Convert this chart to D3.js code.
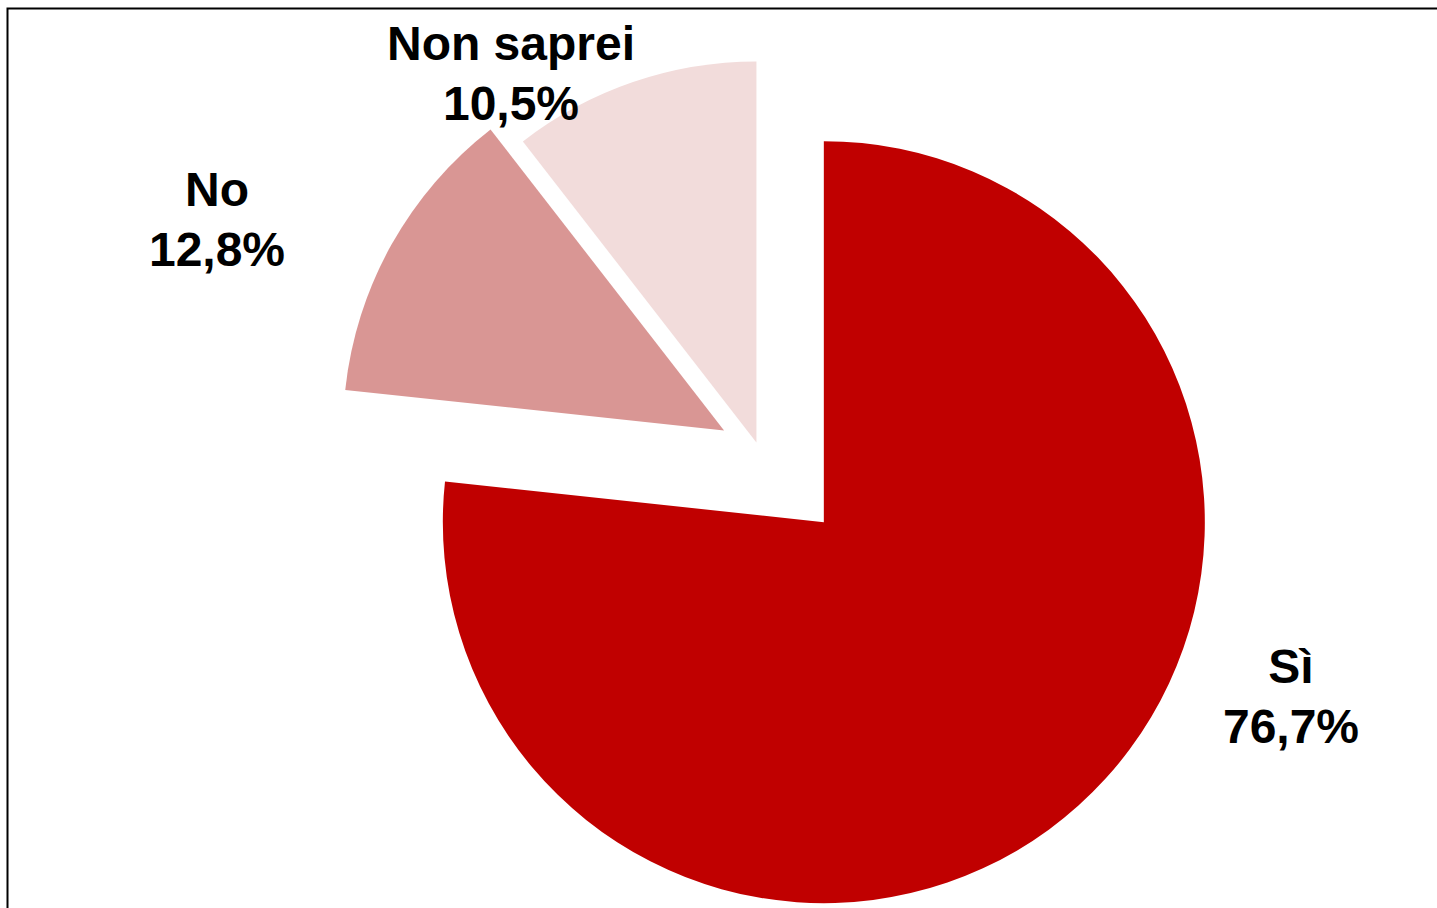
<!DOCTYPE html>
<html>
<head>
<meta charset="utf-8">
<script src="https://cdn.jsdelivr.net/npm/d3@7"></script>
<style>
  html, body { margin: 0; padding: 0; background: #fff; }
  svg { display: block; }
</style>
</head>
<body>
<svg id="chart" width="1437" height="908"></svg>
<script>
// ---- data ----
const categories = ["Sì", "No", "Non saprei"];
const values = [76.7, 12.8, 10.5];
const valueLabels = ["76,7%", "12,8%", "10,5%"];

// ---- style / layout ----
const colors = ["#C00000", "#D99694", "#F2DCDB"];
const explode = [97, 40, 8];              // px offset along bisector
const center = { x: 759, y: 450 };
const radius = 381;
const labelAnchors = [ { x: 1291, y: 683 }, { x: 217, y: 206 }, { x: 511, y: 60 } ];
const lineGap = 60;

const svg = d3.select("#chart");
svg.append("rect").attr("width", 1437).attr("height", 908).attr("fill", "#fff");
// frame (only left/top visible in reference)
svg.append("rect")
  .attr("x", 7.5).attr("y", 8.5).attr("width", 1500).attr("height", 1000)
  .attr("fill", "none").attr("stroke", "#000").attr("stroke-width", 2);

const data = categories.map((c, i) => ({ cat: c, value: values[i], label: valueLabels[i], i }));
const pie = d3.pie().value(d => d.value).sort(null).startAngle(0).endAngle(2 * Math.PI);
const arc = d3.arc().innerRadius(0).outerRadius(radius);

const g = svg.append("g").attr("transform", `translate(${center.x},${center.y})`);
g.selectAll("path").data(pie(data)).join("path")
  .attr("d", arc)
  .attr("fill", d => colors[d.data.i])
  .attr("transform", d => {
    const a = (d.startAngle + d.endAngle) / 2;
    const off = explode[d.data.i];
    return `translate(${off * Math.sin(a)},${-off * Math.cos(a)})`;
  });

const lbl = svg.append("g")
  .attr("font-family", "'Liberation Sans', Arial, sans-serif")
  .attr("font-weight", "bold").attr("font-size", 48).attr("fill", "#000")
  .attr("text-anchor", "middle");
data.forEach(d => {
  const p = labelAnchors[d.i];
  lbl.append("text").attr("x", p.x).attr("y", p.y).text(d.cat);
  lbl.append("text").attr("x", p.x).attr("y", p.y + lineGap).text(d.label);
});
</script>
</body>
</html>
